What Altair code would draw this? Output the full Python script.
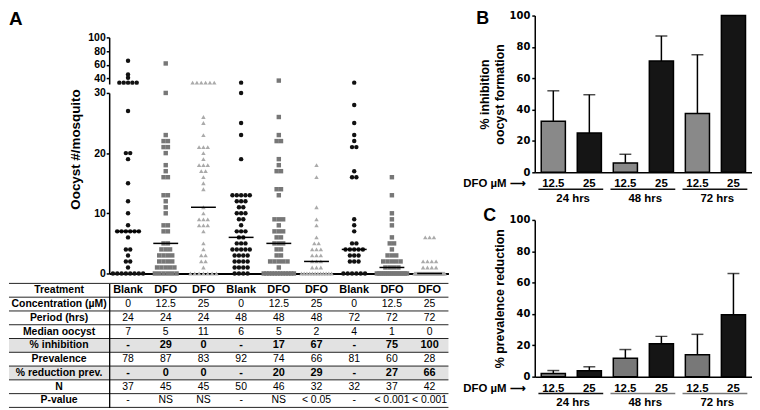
import altair as alt
import pandas as pd
from collections import Counter, defaultdict

FONT = "Liberation Sans"

# ---------------- Panel A : table values ----------------
row_names = ["Treatment", "Concentration (µM)", "Period (hrs)", "Median oocyst",
             "% inhibition", "Prevalence", "% reduction prev.", "N", "P-value"]
treatments = ["Blank", "DFO", "DFO", "Blank", "DFO", "DFO", "Blank", "DFO", "DFO"]
concentrations = ["0", "12.5", "25", "0", "12.5", "25", "0", "12.5", "25"]
periods = ["24", "24", "24", "48", "48", "48", "72", "72", "72"]
median_oocyst = [7, 5, 11, 6, 5, 2, 4, 1, 0]
pct_inhibition = ["-", "29", "0", "-", "17", "67", "-", "75", "100"]
prevalence = ["78", "87", "83", "92", "74", "66", "81", "60", "28"]
pct_reduction_prev = ["-", "0", "0", "-", "20", "29", "-", "27", "66"]
n_mosquitoes = ["37", "45", "45", "50", "46", "32", "32", "37", "42"]
p_values = ["-", "NS", "NS", "-", "NS", "< 0.05", "-", "< 0.001", "< 0.001"]
bold_rows = ["Treatment", "% inhibition", "% reduction prev."]
shaded_rows = ["% inhibition", "% reduction prev."]

# ---------------- Panel A : oocyst counts per mosquito ----------------
oocysts_g1 = [66, 46, 41, 34, 34, 34, 34, 34, 27, 20, 20, 19, 15, 12, 10, 8,
              7, 7, 7, 7, 7, 7, 6, 4, 4, 3, 2, 2, 1, 0, 0, 0, 0, 0, 0, 0, 0]
oocysts_g2 = [62, 30, 23, 22, 22, 21, 21, 20, 18, 17, 16, 16, 13, 13, 12, 11, 10,
              8, 8, 7, 7, 5, 5, 4, 4, 4, 3, 3, 3, 3, 2, 2, 2, 2, 1, 1, 1, 1, 1,
              0, 0, 0, 0, 0, 0]
oocysts_g3 = [34, 34, 34, 34, 34, 34, 26, 25, 23, 21, 21, 21, 20, 19, 18, 18, 18,
              17, 17, 16, 15, 14, 11, 10, 9, 9, 9, 8, 8, 8, 7, 5, 4, 3, 3, 2, 2, 1,
              0, 0, 0, 0, 0, 0, 0]
oocysts_g4 = [34, 30, 25, 23, 19, 13, 13, 13, 13, 13, 12, 12, 12, 11, 11, 10, 10, 10,
              9, 9, 8, 7, 7, 7, 6, 6, 5, 5, 5, 4, 4, 4, 4, 4, 3, 3, 3, 3,
              2, 2, 2, 2, 1, 1, 1, 1, 0, 0, 0, 0]
oocysts_g5 = [37, 26, 23, 22, 22, 19, 18, 17, 17, 14, 14, 13, 9, 9, 9, 8, 7, 7, 7,
              6, 6, 5, 5, 5, 4, 4, 3, 3, 2, 2, 2, 2, 2, 1,
              0, 0, 0, 0, 0, 0, 0, 0, 0, 0, 0, 0]
oocysts_g6 = [18, 16, 11, 9, 8, 6, 5, 5, 4, 4, 4, 3, 3, 3, 2, 2, 2, 1, 1, 1,
              0, 0, 0, 0, 0, 0, 0, 0, 0, 0, 0, 0]
oocysts_g7 = [34, 28, 25, 23, 22, 21, 21, 17, 16, 16, 9, 8, 7, 5, 5, 4, 4, 4, 4, 4,
              3, 3, 3, 2, 2, 2, 0, 0, 0, 0, 0, 0]
oocysts_g8 = [16, 13, 10, 9, 8, 6, 5, 5, 4, 3, 3, 3, 2, 2, 2, 2, 2, 1, 1, 1, 1,
              0, 0, 0, 0, 0, 0, 0, 0, 0, 0, 0, 0, 0, 0, 0, 0]
oocysts_g9 = [6, 6, 6, 2, 2, 2, 2, 1, 1, 1, 1,
              0, 0, 0, 0, 0, 0, 0, 0, 0, 0, 0, 0, 0, 0, 0, 0, 0, 0, 0, 0,
              0, 0, 0, 0, 0, 0, 0, 0, 0, 0, 0]
oocyst_groups = [oocysts_g1, oocysts_g2, oocysts_g3, oocysts_g4, oocysts_g5,
                 oocysts_g6, oocysts_g7, oocysts_g8, oocysts_g9]

doses = ["0", "12.5", "25"]
dose_shapes = ["circle", "square", "triangle-up"]
dose_colors = ["#111111", "#777777", "#aaaaaa"]

# ---------------- Panels B and C ----------------
bar_keys = ["24 hrs|12.5", "24 hrs|25", "48 hrs|12.5", "48 hrs|25", "72 hrs|12.5", "72 hrs|25"]
bar_doses = ["12.5", "25", "12.5", "25", "12.5", "25"]
bar_periods = ["24 hrs", "48 hrs", "72 hrs"]
inhib_mean = [32.5, 25, 6, 71, 37.5, 100]
inhib_upper = [52, 49.5, 11.5, 87, 75, 100]
prevred_mean = [2, 3.7, 11.7, 21, 14, 39.5]
prevred_upper = [3.9, 6.3, 17.3, 25.7, 27, 65.8]

# ---------------- build panel A (column scatter with beeswarm spread) ----------------
records = []
for gi, vals in enumerate(oocyst_groups):
    counts = Counter(vals)
    seen = defaultdict(int)
    for v in sorted(vals, reverse=True):
        n = counts[v]
        k = seen[v]
        seen[v] += 1
        if n == 1:
            off = 0.0
        elif n <= 7:
            off = (k - (n - 1) / 2) * 0.115
        else:
            off = -0.4 + 0.8 * k / (n - 1)
        records.append({"group": gi + 1, "xpos": gi + 1 + off, "oocyst": v,
                        "dose": concentrations[gi]})
pts = pd.DataFrame(records)
pts_up = pts[pts.oocyst > 31]
pts_low = pts[pts.oocyst <= 30]

A_W = 342
xscale = alt.Scale(domain=[0.5, 9.5], nice=False, zero=False)
shape_enc = alt.Shape("dose:N", scale=alt.Scale(domain=doses, range=dose_shapes), legend=None)
color_enc = alt.Color("dose:N", scale=alt.Scale(domain=doses, range=dose_colors), legend=None)

# spacer row holding the panel letter (keeps the top row aligned with panel B)
a_letter = alt.Chart(pd.DataFrame({"t": ["A"]})).mark_text(
    font=FONT, fontSize=19, fontWeight="bold", align="left", baseline="top", color="black"
).encode(text="t:N", x=alt.value(-101), y=alt.value(-5)).properties(width=A_W, height=11)

a_up = alt.Chart(pts_up).mark_point(filled=True, size=20, opacity=1).encode(
    x=alt.X("xpos:Q", scale=xscale, axis=None),
    y=alt.Y("oocyst:Q", scale=alt.Scale(domain=[32, 100], nice=False, zero=False),
            axis=alt.Axis(values=[40, 60, 80, 100], title=None)),
    shape=shape_enc, color=color_enc).properties(width=A_W, height=47)

A_LOW_H = 182
a_low_pts = alt.Chart(pts_low).mark_point(filled=True, size=20, opacity=1).encode(
    x=alt.X("xpos:Q", scale=xscale,
            axis=alt.Axis(labels=False, ticks=False, title=None, domainWidth=2)),
    y=alt.Y("oocyst:Q", scale=alt.Scale(domain=[0, 30], nice=False),
            axis=alt.Axis(values=[0, 10, 20, 30], title=None)),
    shape=shape_enc, color=color_enc)
med = pd.DataFrame({"x1": [i + 1 - 0.33 for i in range(9)],
                    "x2": [i + 1 + 0.33 for i in range(9)],
                    "median": median_oocyst})
a_med = alt.Chart(med).mark_rule(color="black", strokeWidth=1.5).encode(
    x=alt.X("x1:Q", scale=xscale), x2="x2:Q", y="median:Q")
a_title = alt.Chart(pd.DataFrame({"t": ["Oocyst #/mosquito"]})).mark_text(
    font=FONT, fontSize=13.5, fontWeight="bold", angle=270, align="center",
    baseline="middle", color="black"
).encode(text="t:N", x=alt.value(-33), y=alt.value(57))
a_low = alt.layer(a_low_pts, a_med, a_title).properties(width=A_W, height=A_LOW_H)

# ---------------- table ----------------
row_values = [treatments, concentrations, periods, [str(m) for m in median_oocyst],
              pct_inhibition, prevalence, pct_reduction_prev, n_mosquitoes, p_values]
trecs = []
for rn, vals in zip(row_names, row_values):
    for ci, t in enumerate(vals):
        trecs.append({"row": rn, "col": ci, "text": t, "bold": rn in bold_rows})
tdf = pd.DataFrame(trecs)
TAB_H = 125
y_tab_scale = alt.Scale(domain=row_names, paddingInner=0, paddingOuter=0)
y_tab_axis = alt.Axis(title=None, ticks=False, domain=True, domainWidth=1.3,
                      labelAlign="center", labelPadding=51, labelFontSize=10.5,
                      labelBaseline="middle")
x_tab = alt.X("col:O", scale=alt.Scale(domain=list(range(9)), paddingInner=0, paddingOuter=0), axis=None)

shade = alt.Chart(pd.DataFrame({"row": shaded_rows})).mark_rect(color="#e2e2e2").encode(
    y=alt.Y("row:N", scale=y_tab_scale, axis=y_tab_axis),
    x=alt.value(-101), x2=alt.value(A_W))
lines = alt.Chart(pd.DataFrame({"row": row_names})).mark_rule(color="#222222", strokeWidth=1).encode(
    y=alt.Y("row:N", scale=y_tab_scale, axis=y_tab_axis, bandPosition=0),
    x=alt.value(-101), x2=alt.value(A_W))
bottom_line = alt.Chart(pd.DataFrame({"row": [row_names[-1]]})).mark_rule(color="#222222", strokeWidth=1).encode(
    y=alt.Y("row:N", scale=y_tab_scale, axis=y_tab_axis, bandPosition=1),
    x=alt.value(-101), x2=alt.value(A_W))
txt_norm = alt.Chart(tdf[~tdf.bold]).mark_text(font=FONT, fontSize=10.5, color="black").encode(
    x=x_tab, y=alt.Y("row:N", scale=y_tab_scale, axis=y_tab_axis), text="text:N")
txt_bold = alt.Chart(tdf[tdf.bold]).mark_text(font=FONT, fontSize=11, fontWeight="bold", color="black").encode(
    x=x_tab, y=alt.Y("row:N", scale=y_tab_scale, axis=y_tab_axis), text="text:N")
table = alt.layer(shade, lines, bottom_line, txt_norm, txt_bold).properties(width=A_W, height=TAB_H)


# ---------------- bar panels ----------------
def bar_panel(means, uppers, gray, title, line_colors, letter, letter_dx, letter_y, H):
    fills = {"12.5": gray, "25": "#151515"}
    df = pd.DataFrame({"key": bar_keys, "dose": bar_doses, "mean": means, "upper": uppers})
    df["fc"] = [fills[d] for d in bar_doses]
    xs = alt.Scale(domain=bar_keys, paddingInner=0.33, paddingOuter=0.18)
    x = alt.X("key:N", scale=xs, sort=bar_keys,
              axis=alt.Axis(title=None, labels=False, ticks=False, domainWidth=1.5))
    ys = alt.Scale(domain=[0, 100], nice=False)
    y_axis = alt.Axis(tickCount=5, title=title, labelOverlap=False, labelFontSize=10,
                      labelFont="DejaVu Sans", labelPadding=2,
                      titleFontSize=12.5, titlePadding=3, titleLineHeight=15)
    bars = alt.Chart(df).mark_bar(stroke="black", strokeWidth=1.5).encode(
        x=x,
        y=alt.Y("mean:Q", scale=ys, axis=y_axis),
        fill=alt.Fill("fc:N", scale=None))
    err_df = df[df["upper"] > df["mean"]]
    err = alt.Chart(err_df).mark_rule(color="black", strokeWidth=1.5).encode(
        x="key:N", y=alt.Y("mean:Q", scale=ys, axis=y_axis), y2="upper:Q")
    cap = alt.Chart(err_df).mark_tick(color="black", thickness=1.5, size=12).encode(
        x="key:N", y=alt.Y("upper:Q", scale=ys, axis=y_axis))
    dose_lbl = alt.Chart(df).mark_text(font=FONT, fontSize=11.5, fontWeight="bold",
                                       baseline="middle", color="black").encode(
        x="key:N", y=alt.value(H + 12), text="dose:N")
    per_df = pd.DataFrame({"start": bar_keys[0::2], "end": bar_keys[1::2],
                           "period": bar_periods, "lc": line_colors})
    underline = alt.Chart(per_df).mark_rule(strokeWidth=1.5, xOffset=-15, x2Offset=14).encode(
        x="start:N", x2="end:N", y=alt.value(H + 17), stroke=alt.Stroke("lc:N", scale=None))
    per_lbl = alt.Chart(per_df).mark_text(font=FONT, fontSize=11.5, fontWeight="bold",
                                          baseline="middle", dx=20, color="black").encode(
        x="start:N", y=alt.value(H + 27), text="period:N")
    dfo_lbl = alt.Chart(pd.DataFrame({"t": ["DFO µM ⟶"]})).mark_text(
        font=FONT, fontSize=11.5, fontWeight="bold", align="left", baseline="middle", color="black"
    ).encode(text="t:N", x=alt.value(-72), y=alt.value(H + 12))
    letter_mark = alt.Chart(pd.DataFrame({"t": [letter]})).mark_text(
        font=FONT, fontSize=18, fontWeight="bold", align="left", baseline="top", color="black"
    ).encode(text="t:N", x=alt.value(letter_dx), y=alt.value(letter_y))
    return alt.layer(bars, err, cap, dose_lbl, underline, per_lbl, dfo_lbl, letter_mark).properties(
        width=219, height=H)


B_H = 158
panel_b = bar_panel(inhib_mean, inhib_upper, "#898989", ["% inhibition", "oocyst formation"],
                    ["#111111", "#111111", "#111111"], "B", -59, -6, B_H)
panel_c = bar_panel(prevred_mean, prevred_upper, "#787878", "% prevalence reduction",
                    ["#111111", "#777777", "#777777"], "C", -52, -13, B_H)

left = alt.vconcat(a_letter, a_up, a_low, table, spacing=3)
right = alt.vconcat(panel_b, panel_c, spacing=2)

chart = alt.hconcat(left, right, spacing=14).properties(padding=0).configure_axis(
    labelFont=FONT, titleFont=FONT, labelFontWeight="bold", titleFontWeight="bold",
    labelColor="black", titleColor="black", domainColor="black", tickColor="black",
    grid=False, labelFontSize=10.5, tickSize=3, tickWidth=1.5, domainWidth=1.5, labelPadding=1,
    labelOverlap=False
).configure_view(strokeWidth=0)

chart.save("out.html", embed_options={"renderer": "svg", "actions": False})
